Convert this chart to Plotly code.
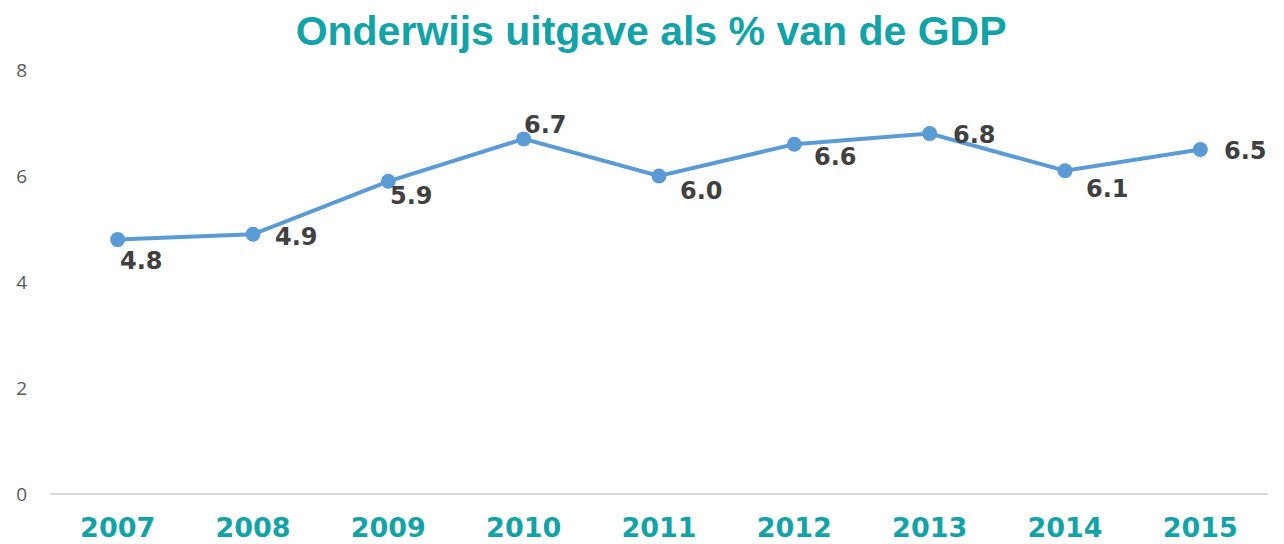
import plotly.graph_objects as go

years = ["2007", "2008", "2009", "2010", "2011", "2012", "2013", "2014", "2015"]
values = [4.8, 4.9, 5.9, 6.7, 6.0, 6.6, 6.8, 6.1, 6.5]
labels = ["4.8", "4.9", "5.9", "6.7", "6.0", "6.6", "6.8", "6.1", "6.5"]

# label offsets (pixels) relative to each point
label_dx = [0, 20, 0, -2, 19, 18, 21, 19, 22]
label_dy = [-21, -3, -15, 14, -15, -13, -1, -18, -1]

TEAL = "#12A3A8"
LINE = "#5B9BD5"

fig = go.Figure()
fig.add_trace(go.Scatter(
    x=years, y=values, mode="lines+markers",
    line=dict(color=LINE, width=4),
    marker=dict(color=LINE, size=15),
    hoverinfo="skip", showlegend=False,
))

for i, (y, t, dx, dy) in enumerate(zip(values, labels, label_dx, label_dy)):
    fig.add_annotation(
        x=i, y=y, xref="x", yref="y", text="<b>" + t + "</b>", showarrow=False,
        xanchor="left", yanchor="middle",
        xshift=dx, yshift=dy,
        font=dict(family="DejaVu Sans", size=24, color="#404040"),
    )

fig.update_layout(
    width=1276, height=536,
    margin=dict(l=42, r=16, t=62, b=50),
    plot_bgcolor="white", paper_bgcolor="white",
    title=dict(
        text="<b>Onderwijs uitgave als % van de GDP</b>",
        x=0.504, xanchor="center", xref="container",
        y=0.957, yanchor="middle", yref="container",
        font=dict(family="Liberation Sans, Arial", size=41, color=TEAL),
    ),
    xaxis=dict(
        type="category", range=[-0.5, 8.5], automargin=False,
        showgrid=False, showline=False, zeroline=False,
        ticks="", ticklabelstandoff=15,
        tickfont=dict(family="DejaVu Sans", size=27, color=TEAL, weight="bold"),
    ),
    yaxis=dict(
        range=[0, 8], tickvals=[0, 2, 4, 6, 8], automargin=False,
        showgrid=False, showline=False,
        zeroline=True, zerolinecolor="#D9D9D9", zerolinewidth=1.5,
        ticks="", ticklabelstandoff=22,
        tickfont=dict(family="Open Sans", size=19, color="#595959"),
    ),
)

fig.write_html("out.html")
